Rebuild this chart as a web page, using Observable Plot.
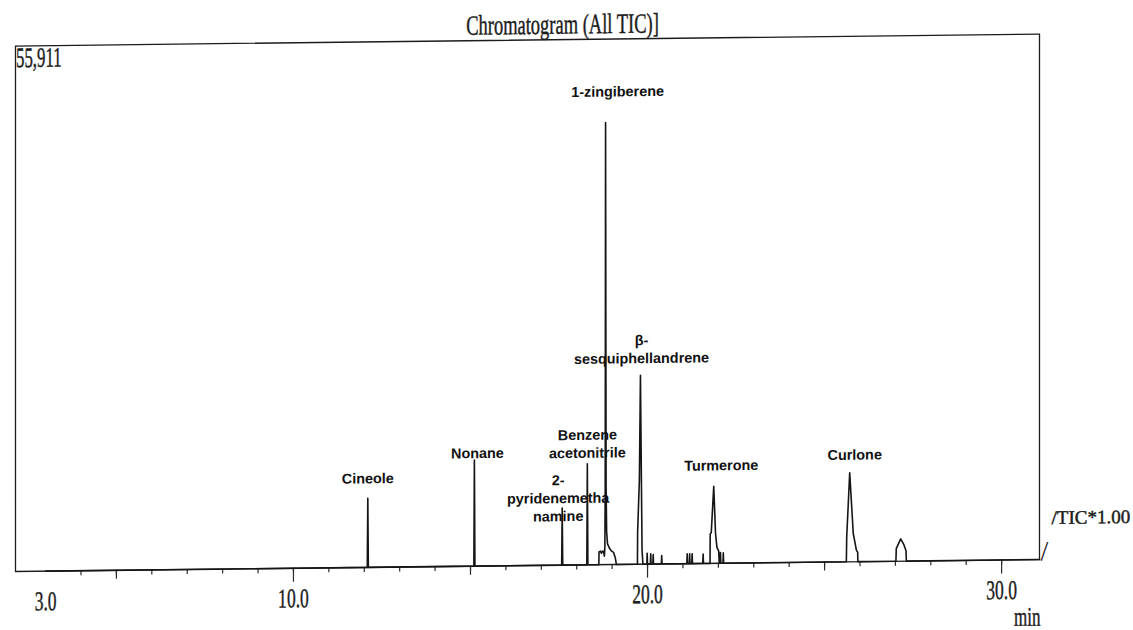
<!DOCTYPE html>
<html>
<head>
<meta charset="utf-8">
<script src="https://cdn.jsdelivr.net/npm/d3@7"></script>
<script src="https://cdn.jsdelivr.net/npm/@observablehq/plot@0.6"></script>
<style>
  html, body { margin: 0; padding: 0; background: #fff; overflow: hidden; }
  /* the printed trace sits very slightly askew on the page */
  #chart svg { transform: skewY(-0.67deg); transform-origin: 17px 571px; }
</style>
</head>
<body>
<div id="chart"></div>
<script>
// ---- chart text ----
const title = "Chromatogram (All TIC)]";
const traceName = "TIC*1.00";
const timeUnit = "min";
const fullScale = 55911;               // detector counts at the top of the frame

// ---- retention-time axis (min) ----
const timeRange = [2.15, 31.07];
const timeLabels = [3, 10, 20, 30];
const minuteTicks = [4, 5, 6, 7, 8, 9, 10, 11, 12, 13, 14, 15, 16, 17, 18, 19, 20,
                     21, 22, 23, 24, 25, 26, 27, 28, 29, 30];
const fiveMinuteTicks = [5, 15, 25];
const tenMinuteTicks = [10, 20, 30];

// ---- identified compounds ----
const compounds = ["Cineole", "Nonane", "2-\npyridenemetha\nnamine", "Benzene\nacetonitrile",
                   "1-zingiberene", "β-\nsesquiphellandrene", "Turmerone", "Curlone"];
const retention = [12.10, 15.11, 17.59, 18.30, 18.815, 19.80, 21.87, 25.71];
const apexHeight = [7340, 11280, 6060, 10750, 47030, 20110, 8190, 9470];

// ---- total ion current trace: [time (min), counts] ----
const ticTrace = [
  [3.00, 0],
  [12.085, 0], [12.10, 7340], [12.115, 0],
  [15.095, 0], [15.11, 11280], [15.125, 0],
  [17.575, 0], [17.59, 6060], [17.605, 0],
  [18.285, 0], [18.30, 10750], [18.315, 0],
  [18.625, 0], [18.63, 1350], [18.67, 1450], [18.70, 1200], [18.73, 1450], [18.76, 1400], [18.78, 900],
  [18.795, 1800], [18.805, 8000], [18.815, 47030], [18.83, 8000], [18.845, 3500], [18.87, 2200],
  [18.93, 1700], [18.98, 1450], [19.04, 1300], [19.09, 700], [19.12, 0],
  [19.715, 0], [19.72, 3400], [19.77, 9000], [19.80, 20110], [19.845, 1500], [19.87, 0],
  [19.98, 0], [19.99, 1150], [20.00, 0],
  [20.08, 0], [20.09, 1100], [20.10, 0],
  [20.15, 0], [20.16, 1000], [20.17, 0],
  [20.39, 0], [20.40, 900], [20.41, 0],
  [21.11, 0], [21.12, 1050], [21.13, 0],
  [21.18, 0], [21.19, 1050], [21.20, 0],
  [21.25, 0], [21.26, 1050], [21.27, 0],
  [21.56, 0], [21.57, 1000], [21.58, 0],
  [21.765, 0], [21.77, 3100], [21.80, 3300], [21.87, 8190], [21.92, 3200], [21.96, 1700],
  [22.01, 1300], [22.025, 0],
  [22.05, 0], [22.06, 1150], [22.07, 0],
  [22.13, 0], [22.14, 1100], [22.15, 0],
  [25.615, 0], [25.625, 2600], [25.71, 9470], [25.81, 3000], [25.90, 1200], [25.935, 1000], [25.94, 0],
  [27.015, 0], [27.025, 1340], [27.15, 2370], [27.24, 1750], [27.30, 1100], [27.31, 0],
  [31.07, 0]
];

// ---- styling ----
const ink = "#1c1c1c";
const serif = "'Liberation Serif', 'Times New Roman', Times, serif";
const sans = "'Liberation Sans', Arial, Helvetica, sans-serif";
// printout lettering is a little heavy: a hairline outline thickens the glyphs
const printInk = {fill: ink, stroke: ink, strokeWidth: 0.45};

// label nudges [dx, dy] in px from each peak apex, so names clear the neighbouring traces
const labelNudge = [[0, -15], [3, -2], [-4, 13], [0, -6], [12, -26], [1, -12], [7.5, -16], [5, -13]];

const tickAxis = (values, size) => Plot.axisX(values, {
  tickSize: size, tickFormat: () => "", label: null, stroke: "#2a2a2a", strokeWidth: 1.2
});

const fullScaleText = fullScale.toLocaleString("en-US");
const timeText = timeLabels.map(t => t.toFixed(1));
const traceText = "/" + traceName;

const chart = Plot.plot({
  width: 1133,
  height: 660,
  marginLeft: 15,
  marginRight: 94,
  marginTop: 45.5,
  marginBottom: 89,
  x: {domain: timeRange, label: null, axis: null},
  y: {domain: [0, fullScale], label: null, axis: null},
  style: {background: "white", color: ink},
  marks: [
    Plot.frame({stroke: ink, strokeWidth: 1.3}),
    tickAxis(minuteTicks, 5),
    tickAxis(fiveMinuteTicks, 9),
    tickAxis(tenMinuteTicks, 14),
    Plot.line(ticTrace, {x: d => d[0], y: d => d[1], stroke: "#151515", strokeWidth: 1.6}),
    ...compounds.map((name, i) => Plot.text([i], {
      x: j => retention[j], y: j => apexHeight[j], text: j => compounds[j],
      dx: labelNudge[i][0], dy: labelNudge[i][1],
      lineAnchor: "bottom", lineHeight: 1.25,
      fontFamily: sans, fontWeight: "bold", fontSize: 14.4, fill: "#111"
    })),
    Plot.text([title], {
      text: d => d, frameAnchor: "top", lineAnchor: "bottom", dx: 35, dy: -6,
      fontFamily: serif, fontSize: 28, ...printInk
    }),
    Plot.text([fullScaleText], {
      text: d => d, frameAnchor: "top-left", textAnchor: "start",
      lineAnchor: "bottom", dx: 0.5, dy: 21,
      fontFamily: serif, fontSize: 28, ...printInk
    }),
    Plot.text(timeLabels, {
      x: d => d, text: d => d.toFixed(1), frameAnchor: "bottom", lineAnchor: "bottom", dy: 39,
      fontFamily: serif, fontSize: 27, ...printInk
    }),
    Plot.text([timeUnit], {
      text: d => d, frameAnchor: "bottom-right", textAnchor: "end", lineAnchor: "bottom",
      dx: 1, dy: 66, fontFamily: serif, fontSize: 27, ...printInk
    }),
    // leader from the end of the trace to its name
    Plot.text(["/"], {
      text: d => d, frameAnchor: "bottom-right", textAnchor: "start", lineAnchor: "bottom",
      dx: 1, dy: 1, fontFamily: serif, fontSize: 28, fill: ink
    }),
    Plot.text([traceText], {
      text: d => d, frameAnchor: "bottom-right", textAnchor: "start", lineAnchor: "bottom",
      dx: 12, dy: -35.5, fontFamily: serif, fontSize: 19, ...printInk
    })
  ]
});

document.getElementById("chart").append(chart);

// the printout's serif lettering is narrow: squeeze each string horizontally
const squeeze = new Map([
  [title, 0.66],
  [fullScaleText, 0.6],
  [timeUnit, 0.63],
  ...timeText.map(s => [s, 0.65])
]);
chart.querySelectorAll("text").forEach(t => {
  const k = squeeze.get(t.textContent);
  if (!k) return;
  const w = t.getComputedTextLength();
  t.setAttribute("textLength", (w * k).toFixed(1));
  t.setAttribute("lengthAdjust", "spacingAndGlyphs");
});
</script>
</body>
</html>
